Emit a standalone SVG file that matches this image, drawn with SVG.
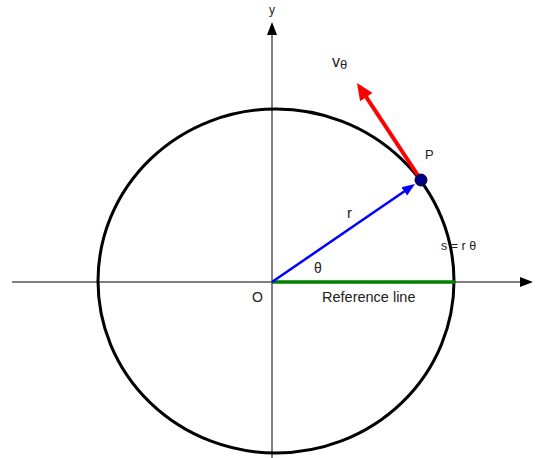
<svg xmlns="http://www.w3.org/2000/svg" width="540" height="458" viewBox="0 0 540 458">
<style>
.axis{stroke:#555;stroke-width:1.5;fill:none}
.t{font-family:"Liberation Sans",Arial,sans-serif;fill:#222}
</style>
<defs>
<marker id="ak" markerUnits="userSpaceOnUse" markerWidth="14" markerHeight="12" refX="10" refY="5" orient="auto" viewBox="0 0 14 10">
<path d="M0,0 L13,5 L0,10 z" fill="#000"/>
</marker>
<marker id="ar" markerUnits="userSpaceOnUse" markerWidth="18" markerHeight="16" refX="13" refY="7.5" orient="auto" viewBox="0 0 18 15">
<path d="M0,0 L17,7.5 L0,15 z" fill="#ff0000"/>
</marker>
<marker id="ab" markerUnits="userSpaceOnUse" markerWidth="14" markerHeight="12" refX="10" refY="5" orient="auto" viewBox="0 0 14 10">
<path d="M0,0 L13,5 L0,10 z" fill="#0000ff"/>
</marker>
</defs>
<g id="axes">
<line class="axis" x1="272" y1="458" x2="272" y2="25" marker-end="url(#ak)"/>
<line class="axis" x1="12" y1="282" x2="530" y2="282" marker-end="url(#ak)"/>
</g>
<g id="circle">
<ellipse cx="276" cy="281" rx="178" ry="172" fill="none" stroke="#000" stroke-width="3"/>
</g>
<g id="connectors">
<line id="ref" x1="272" y1="282" x2="455" y2="282" stroke="#008000" stroke-width="3.5"/>
<line id="rvec" x1="272" y1="282" x2="412.5" y2="185.7" stroke="#0000ff" stroke-width="2.5" marker-end="url(#ab)"/>
<line id="vvec" x1="421" y1="180" x2="359.2" y2="86.3" stroke="#ff0000" stroke-width="4" marker-end="url(#ar)"/>
</g>
<g id="P">
<circle cx="421" cy="180" r="6" fill="#000080" stroke="#000033" stroke-width="1"/>
<text class="t" x="425" y="159" font-size="13">P</text>
</g>
<g id="labels">
<text class="t" x="269" y="14" font-size="12">y</text>
<text class="t" x="332" y="67" font-size="16">v<tspan font-size="13" dy="2">θ</tspan></text>
<text class="t" x="347" y="218" font-size="15">r</text>
<text class="t" x="314" y="273" font-size="14">θ</text>
<text class="t" x="252" y="302" font-size="14">O</text>
<text class="t" x="322" y="302" font-size="14.5">Reference line</text>
<text class="t" x="441" y="250" font-size="12.5">s = r θ</text>
</g>
</svg>
